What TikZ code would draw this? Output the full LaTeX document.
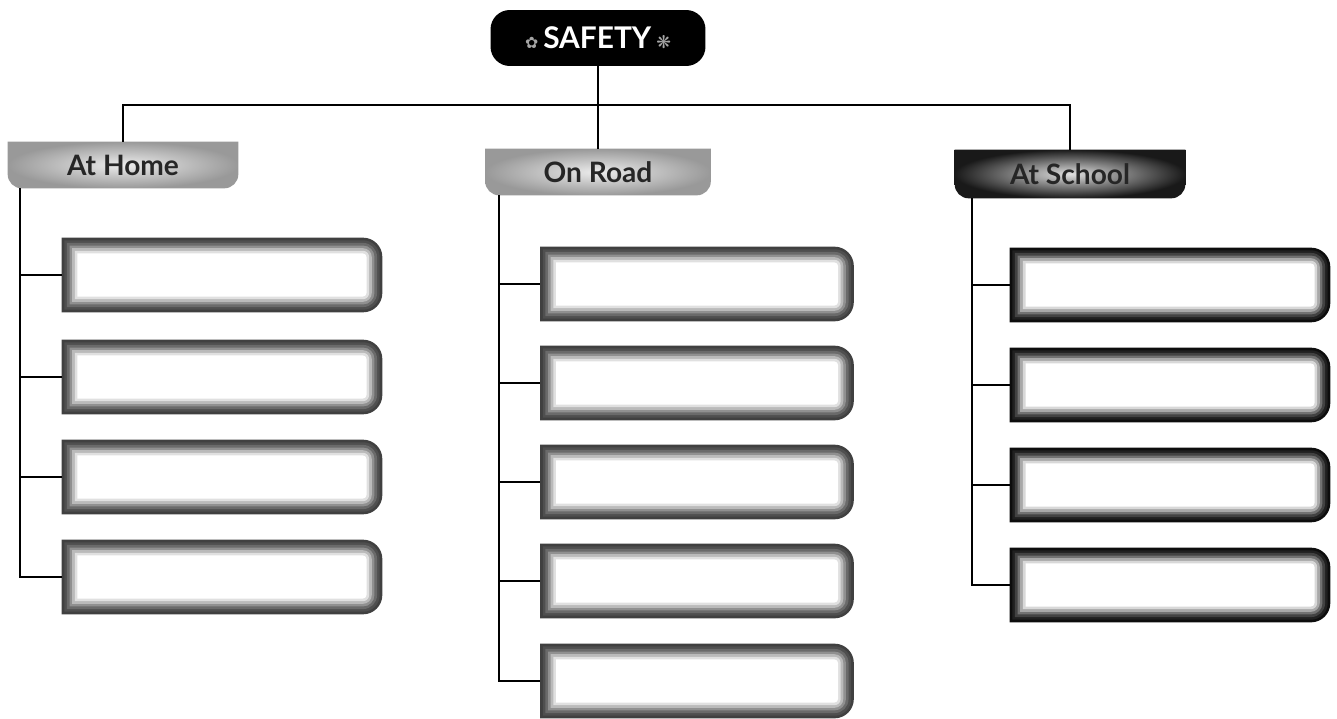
\documentclass[tikz,border=0pt]{standalone}
\usepackage{fontspec}
\setmainfont{Lato}
\newfontfamily\symfont{DejaVu Sans}
\usetikzlibrary{positioning}
\pgfdeclarelayer{background}
\pgfsetlayers{background,main}
\colorlet{rimA}{black!75}
\colorlet{rimB}{black!95}
% outline of node #1 with round right corners, inset #2 pt, corner #3 pt
\newcommand{\rimpath}[3]{([shift={(#2pt,-#2pt)}]#1.north west) -- ([shift={(-#3pt,-#2pt)}]#1.north east) arc[start angle=90,end angle=0,radius=#3pt-#2pt] -- ([shift={(-#2pt,#3pt)}]#1.south east) arc[start angle=0,end angle=-90,radius=#3pt-#2pt] -- ([shift={(#2pt,#2pt)}]#1.south west) -- cycle}
% tab outline: square top, round bottom corners
\newcommand{\tabpath}[2]{(#1.north west) -- (#1.north east) -- ([yshift=#2]#1.south east) arc[start angle=0,end angle=-90,radius=#2] -- ([xshift=#2]#1.south west) arc[start angle=270,end angle=180,radius=#2] -- cycle}
% empty box with a soft dark rim
\newcommand{\fuzzbox}[2]{%
  \foreach \d/\f in {0/100,1.5/92,3/78,4.5/58,6/36,7.5/16,9/0}
    \fill[#2!\f!white] \rimpath{#1}{\d}{11};}

\begin{document}
\begin{tikzpicture}[x=0.02cm, y=0.02cm,
  link/.style={line width=1.1pt},
  tab/.style={minimum width=4.6cm, minimum height=0.92cm, inner sep=0pt, font=\bfseries\fontsize{16}{18}\selectfont, text=black!85},
  slot/.style={minimum width=6.4cm, minimum height=1.48cm, inner sep=0pt}]
  \useasboundingbox (0,0) rectangle (1337,-719);
  % title
  \node[fill=black, rounded corners=11pt, minimum width=4.3cm, minimum height=1.12cm, text=white, font=\bfseries\fontsize{17}{20}\selectfont] (safety) at (598,-38) {{\symfont\color{gray!70}\small ✿}\,SAFETY\,{\symfont\color{gray!70}\normalsize ❋}};
  % groups
  \node[tab] (home) at (123,-165) {At Home};
  \node[tab, minimum width=4.5cm] (road) at (598,-172) {On Road};
  \node[tab, minimum height=0.96cm] (school) at (1070,-174) {At School};
  \begin{pgfonlayer}{background}
    \shade[inner color=gray!15, outer color=gray!80] \tabpath{home}{8pt};
    \shade[inner color=gray!15, outer color=gray!80] \tabpath{road}{8pt};
    \shade[inner color=gray!25, outer color=black!90] \tabpath{school}{8pt};
  \end{pgfonlayer}
  \coordinate (bar) at (598,-105);
  \draw[link] (safety) -- (road);
  \draw[link] (home.north) |- (bar) -| (school.north);
  % At Home
  \foreach \i/\y in {1/275,2/377,3/477,4/577} {
    \node[slot] (h\i) at (222,-\y) {};
    \fuzzbox{h\i}{rimA}
    \draw[link] ([xshift=0.24cm]home.south west) |- (h\i.west);
  }
  % On Road
  \foreach \i/\y in {1/284,2/383,3/482,4/581,5/681} {
    \node[slot, minimum width=6.26cm] (r\i) at (697,-\y) {};
    \fuzzbox{r\i}{rimA}
    \draw[link] ([xshift=0.27cm]road.south west) |- (r\i.west);
  }
  % At School
  \foreach \i/\y in {1/285,2/385,3/485,4/585} {
    \node[slot] (s\i) at (1170,-\y) {};
    \fuzzbox{s\i}{rimB}
    \draw[link] ([xshift=0.34cm]school.south west) |- (s\i.west);
  }
\end{tikzpicture}
\end{document}
